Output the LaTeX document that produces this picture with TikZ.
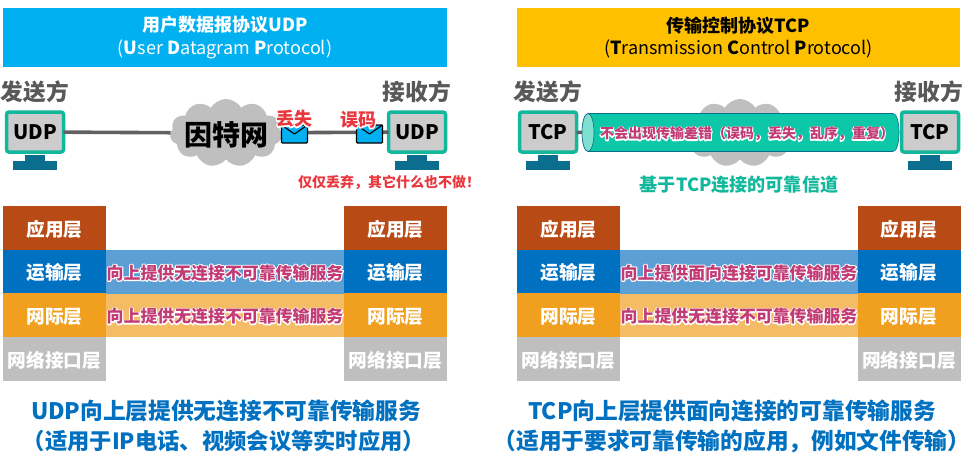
\documentclass[tikz,border=0pt]{standalone}
\usepackage{fontspec}
\setmainfont{Noto Sans CJK SC}
\usetikzlibrary{shapes.symbols,shapes.geometric,calc}
\definecolor{hblue}{HTML}{00B0F0}
\definecolor{hyellow}{HTML}{FFC000}
\definecolor{dgray}{HTML}{595959}
\definecolor{teal1}{HTML}{12B89C}
\definecolor{scr}{HTML}{CCCCCC}
\definecolor{stand}{HTML}{0B6E8E}
\definecolor{cloudg}{HTML}{BFBFBF}
\definecolor{redt}{HTML}{E8383D}
\definecolor{pinkt}{HTML}{C23B75}
\definecolor{tube}{HTML}{0CC8A8}
\definecolor{tubeend}{HTML}{7FE0CF}
\definecolor{lapp}{HTML}{B84A16}
\definecolor{ltra}{HTML}{0070C0}
\definecolor{lnet}{HTML}{F0A01E}
\definecolor{llink}{HTML}{BFBFBF}
\definecolor{mtra}{HTML}{5B9FD4}
\definecolor{mnet}{HTML}{F5BC66}
\newcommand{\halotext}[2][2.2]{\leavevmode\rlap{\color{white}\special{pdf:code 2 Tr #1 w 1 j 1 1 1 RG 1 1 1 rg}#2\special{pdf:code 0 Tr 0.4 w 0 j}}#2}
\newcommand{\fz}[1]{\fontsize{#1}{#1}\selectfont}
\newcommand{\zwcomma}{\symbol{"FF0C}}
\newcommand{\zwopen}{\symbol{"FF08}}
\newcommand{\zwclose}{\symbol{"FF09}}
\newcommand{\zwbang}{\symbol{"FF01}}
\tikzset{
  x=1pt,y=-1pt,
  every node/.style={inner sep=0pt,outer sep=0pt},
  header/.style={minimum width=444,minimum height=59,align=center,font=\fz{18}\bfseries},
  role/.style={font=\fz{22.7}\bfseries,text=dgray},
  screen/.style={draw=teal1,line width=3.5pt,fill=scr,rounded corners=2.5pt,minimum width=57,minimum height=40,font=\fz{20}\bfseries,text=black},
  standbar/.style={fill=stand,draw=none},
  link/.style={draw=dgray!95,line width=3.6pt},
  netcloud/.style={cloud,cloud puffs=11,cloud puff arc=120,aspect=1.7,fill=cloudg,draw=none,minimum width=112,minimum height=68},
  env/.style={draw=black,line width=1.2pt,fill=hblue,rounded corners=1pt,minimum width=26,minimum height=18},
  flap/.style={draw=black,line width=1.1pt},
  layer/.style={minimum width=103,minimum height=44,text=white,font=\fz{18.7}\bfseries,text height=17,text depth=1},
  app/.style={layer,fill=lapp},
  tra/.style={layer,fill=ltra},
  net/.style={layer,fill=lnet},
  lnk/.style={layer,fill=llink},
  mid/.style={minimum width=238,minimum height=43.5,font=\fz{16.9}\bfseries,text=pinkt,text height=16,text depth=1},
  redlab/.style={text=redt,font=\fz{18}\bfseries},
  foot/.style={text=ltra,font=\fz{22.7}\bfseries},
  foottwo/.style={text=ltra,font=\fz{22.3}\bfseries},
}
\newcommand{\standat}[1]{%
  \fill[standbar] ($(#1.south)+(-10,3)$) rectangle ($(#1.south)+(10,9)$);
  \fill[standbar] ($(#1.south)+(-22,9)$) rectangle ($(#1.south)+(22,18)$);}
\begin{document}
\begin{tikzpicture}
\useasboundingbox (0,0) rectangle (974,456);
\fill[white] (0,0) rectangle (974,456);
% headers
\node[header,fill=hblue,text=white] (hl) at (225,37.5) {用户数据报协议UDP\\[4.5pt]{\mdseries (}U{\mdseries ser }D{\mdseries atagram }P{\mdseries rotocol)}};
\node[header,fill=hyellow,text=black,minimum width=443] (hr) at (738.5,37.5) {传输控制协议TCP\\[4.5pt]{\mdseries (}T{\mdseries ransmission }C{\mdseries ontrol }P{\mdseries rotocol)}};
% UDP scene
\node[role] (s1) at (35,92) {发送方};
\node[role] (r1) at (417,92) {接收方};
\node[screen] (ms1) at (35,132) {UDP};
\node[screen] (mr1) at (417,132) {UDP};
\standat{ms1}\standat{mr1}
\node[netcloud] (c1) at (226,133) {};
\draw[link] (ms1) -- (c1);
\draw[link] (c1) -- (mr1);
\node[font=\fz{28}\bfseries,text=black] (inet) at (226,135) {因特网};
\node[env] (e1) at (294.5,134) {};
\draw[flap,line join=round] (e1.north west) -- (e1.center) -- (e1.north east);
\node[env] (e2) at (369.5,134) {};
\draw[flap,line join=round] (e2.north west) -- (e2.center) -- (e2.north east);
\node[redlab] (l1) at (294,119) {\halotext{丢失}};
\node[redlab] (l2) at (358,120) {\halotext{误码}};
\node[text=redt,font=\fz{14}\bfseries] (l3) at (389,182) {\halotext[2]{仅仅丢弃\zwcomma 其它什么也不做\zwbang}};
% TCP scene
\node[role] (s2) at (548,92) {发送方};
\node[role] (r2) at (929,92) {接收方};
\node[screen] (ms2) at (548,132) {TCP};
\node[screen] (mr2) at (930,132) {TCP};
\standat{ms2}\standat{mr2}
\node[netcloud] (c2) at (740,133) {};
\node[ellipse,fill=tubeend,draw=stand,line width=.6pt,minimum width=12,minimum height=38] (tl) at (588,132.5) {};
\draw[link] (ms2) -- (tl);
\draw[fill=tube,draw=stand,line width=.6pt] (tl.north) -- (893,113.5) .. controls (901,113.5) and (901,151.5) .. (893,151.5) -- (tl.south) -- cycle;
\draw[fill=tubeend,draw=stand,line width=.6pt] (tl.center) ellipse[x radius=6,y radius=19];
\node[text=pinkt,font=\fz{14}\bfseries] (tt) at (747,134) {\halotext[2]{不会出现传输差错\zwopen 误码\zwcomma 丢失\zwcomma 乱序\zwcomma 重复\zwclose}};
\node[text=teal1,font=\fz{18.1}\bfseries] (cap) at (739,185) {\halotext[2.4]{基于TCP连接的可靠信道}};
% left stack
\node[app] (a1) at (54.5,228) {应用层};
\node[tra] (t1) at (54.5,271.75) {运输层};
\node[net] (n1) at (54.5,315.25) {网际层};
\node[lnk] (k1) at (54.5,359) {网络接口层};
\node[app] (a2) at (395.5,228) {应用层};
\node[tra] (t2) at (395.5,271.75) {运输层};
\node[net] (n2) at (395.5,315.25) {网际层};
\node[lnk] (k2) at (395.5,359) {网络接口层};
\node[mid,fill=mtra] (m1) at (225,271.75) {\halotext{向上提供无连接不可靠传输服务}};
\node[mid,fill=mnet] (m2) at (225,315.25) {\halotext{向上提供无连接不可靠传输服务}};
% right stack
\node[app] (a3) at (568.5,228) {应用层};
\node[tra] (t3) at (568.5,271.75) {运输层};
\node[net] (n3) at (568.5,315.25) {网际层};
\node[lnk] (k3) at (568.5,359) {网络接口层};
\node[app] (a4) at (909,228) {应用层};
\node[tra] (t4) at (909,271.75) {运输层};
\node[net] (n4) at (909,315.25) {网际层};
\node[lnk] (k4) at (909,359) {网络接口层};
\node[mid,fill=mtra] (m3) at (739,271.75) {\halotext{向上提供面向连接可靠传输服务}};
\node[mid,fill=mnet] (m4) at (739,315.25) {\halotext{向上提供无连接不可靠传输服务}};
% footers
\node[foot] (f1) at (226,411) {UDP向上层提供无连接不可靠传输服务};
\node[foottwo] (f2) at (224,441) {\zwopen 适用于IP电话、视频会议等实时应用\zwclose};
\node[foot] (f3) at (732,411) {TCP向上层提供面向连接的可靠传输服务};
\node[foot] (f4) at (732,441) {\zwopen 适用于要求可靠传输的应用\zwcomma 例如文件传输\zwclose};
\end{tikzpicture}
\end{document}
